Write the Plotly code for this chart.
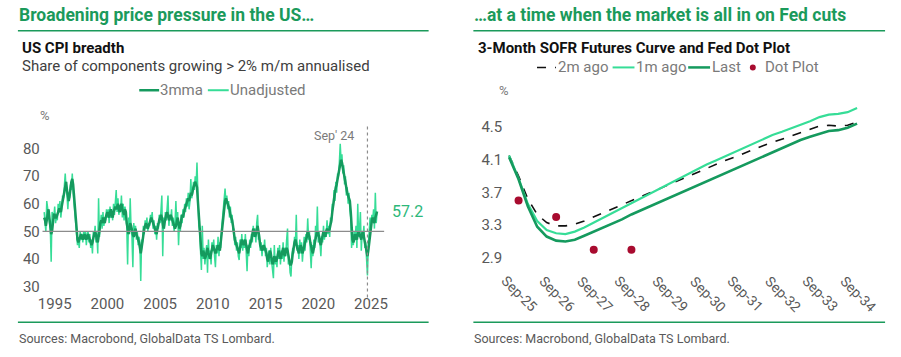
import plotly.graph_objects as go
import pandas as pd

W, H = 901, 357
def px(x): return x / W
def py(y): return 1 - y / H

GREEN = "#1B9A5B"
DARK = "#159A5E"
LIGHT = "#36DD97"
RED = "#A80B2F"
TXT = "#404040"
FONT = "Roboto"

# ---------------- Left chart data: US CPI breadth (monthly, Jan 1994 - Aug 2025) -------------
cpi_start = "1994-01-01"
cpi_unadjusted = [
    57, 52, 50, 61, 58, 56, 53, 51, 39, 57, 56, 55,          # 1994
    59, 53, 56, 54, 60, 57, 61, 55, 58, 63, 62, 66,          # 1995
    71, 65, 63, 58, 64, 62, 67, 65, 71, 64, 60, 55,          # 1996
    50, 48, 45, 47, 44, 50, 47, 49, 46, 50, 47, 50,          # 1997
    45, 49, 50, 46, 49, 44, 47, 42, 50, 48, 52, 46,          # 1998
    49, 42, 62, 48, 53, 56, 51, 57, 52, 55, 54, 58,          # 1999
    55, 58, 53, 59, 55, 57, 54, 60, 56, 61, 65, 57,          # 2000
    62, 56, 59, 57, 63, 55, 60, 54, 59, 56, 52, 38,          # 2001
    55, 49, 62, 51, 48, 37, 53, 49, 52, 47, 50, 45,          # 2002
    48, 45, 32, 47, 46, 52, 49, 54, 51, 55, 50, 53,          # 2003
    52, 56, 54, 57, 51, 54, 49, 52, 47, 53, 51, 56,          # 2004
    53, 58, 63, 41, 55, 51, 57, 54, 59, 63, 52, 56,          # 2005
    54, 58, 52, 55, 50, 53, 61, 52, 57, 45, 53, 50,          # 2006
    56, 53, 58, 55, 60, 57, 62, 59, 64, 58, 61, 69,          # 2007
    62, 64, 68, 65, 70, 67, 75, 60, 52, 50, 42, 36,          # 2008
    52, 40, 44, 38, 42, 45, 35, 47, 40, 43, 38, 46,          # 2009
    43, 47, 41, 37, 45, 42, 48, 41, 46, 44, 51, 55,          # 2010
    57, 60, 65.5, 60, 63, 58, 61, 55, 59, 53, 56, 50,        # 2011
    51, 45, 48, 43, 46, 41, 39.6, 47, 44, 49, 43, 47,        # 2012
    44, 49, 43, 35.5, 45, 41, 47, 44, 49, 46, 52, 48,        # 2013
    51, 46, 53, 56, 47, 49, 43, 46, 41, 45, 43, 47,          # 2014
    41, 44, 37, 40, 43, 38, 44, 39, 36, 33, 45, 38,          # 2015
    41, 37, 44, 40, 45, 38, 43, 40, 46, 39, 44, 41,          # 2016
    47, 51, 38, 40, 35, 33.6, 41, 44, 42, 48, 45, 56,        # 2017
    43, 45, 40, 47, 42, 46, 39, 44, 48, 43, 49, 46,          # 2018
    54.7, 47, 50, 43, 36.6, 45, 41, 47, 44, 52, 48, 59,      # 2019
    46, 50, 44, 41, 48, 46, 52, 47, 50, 48, 54, 49,          # 2020
    52, 48, 55, 53, 60, 58, 65, 61, 68, 64, 71, 70,          # 2021
    75, 81.8, 76, 78, 71, 74, 67, 70, 63, 66, 60, 64,        # 2022
    58, 55, 44, 49, 45, 50, 47, 52, 44, 60, 48, 51,          # 2023
    57, 43, 50, 48, 52, 44, 46, 40, 34, 45, 49, 55,          # 2024
    52, 56, 54, 58, 51, 64, 53, 57,                          # 2025
]
cpi_3mma = [
    55, 54, 52, 54, 57, 58, 55, 52, 49, 50, 54, 56,          # 1994
    56, 55, 55, 56, 57, 58, 58, 57, 59, 61, 63, 65,          # 1995
    67, 68, 65, 62, 61, 63, 66, 68, 69, 67, 63, 58,          # 1996
    53, 49, 47, 46, 47, 48, 49, 48, 47, 48, 49, 48,          # 1997
    47, 48, 49, 48, 47, 46, 45, 46, 48, 49, 50, 49,          # 1998
    47, 46, 48, 51, 53, 54, 53, 55, 54, 53, 55, 56,          # 1999
    57, 56, 55, 57, 58, 56, 55, 57, 58, 59, 58, 59,          # 2000
    60, 58, 57, 59, 60, 58, 57, 56, 58, 57, 53, 50,          # 2001
    49, 51, 53, 52, 50, 49, 48, 50, 51, 49, 48, 47,          # 2002
    46, 44, 42, 44, 47, 50, 51, 52, 53, 52, 51, 52,          # 2003
    53, 54, 55, 54, 53, 52, 51, 50, 49, 51, 53, 54,          # 2004
    55, 56, 55, 53, 51, 53, 55, 56, 57, 55, 54, 55,          # 2005
    56, 55, 54, 53, 52, 51, 52, 54, 55, 53, 51, 52,          # 2006
    54, 56, 55, 57, 58, 59, 60, 61, 62, 61, 63, 64,          # 2007
    63, 65, 66, 67, 68, 67, 66, 61, 55, 49, 44, 42,          # 2008
    41, 43, 42, 40, 41, 43, 44, 42, 41, 40, 42, 44,          # 2009
    45, 44, 43, 42, 43, 44, 45, 44, 43, 46, 49, 52,          # 2010
    56, 59, 61, 62, 61, 60, 59, 58, 56, 55, 54, 52,          # 2011
    49, 47, 46, 45, 44, 43, 42, 44, 46, 47, 46, 45,          # 2012
    46, 47, 45, 43, 42, 44, 45, 46, 47, 49, 51, 50,          # 2013
    48, 49, 51, 52, 50, 47, 45, 44, 43, 44, 45, 44,          # 2014
    43, 42, 40, 39, 41, 43, 42, 40, 38, 39, 41, 40,          # 2015
    39, 40, 42, 43, 42, 40, 41, 43, 44, 42, 41, 43,          # 2016
    44, 43, 41, 39, 38, 38, 39, 42, 45, 46, 47, 45,          # 2017
    44, 43, 42, 44, 45, 44, 42, 43, 45, 46, 47, 48,          # 2018
    50, 49, 48, 46, 44, 43, 42, 44, 46, 48, 49, 50,          # 2019
    49, 48, 46, 45, 47, 49, 50, 49, 48, 50, 51, 50,          # 2020
    50, 51, 52, 54, 57, 60, 62, 64, 66, 67, 69, 71,          # 2021
    73, 75, 76, 75, 73, 71, 69, 67, 65, 64, 63, 62,          # 2022
    61, 57, 51, 47, 46, 47, 49, 48, 47, 49, 50, 49,          # 2023
    48, 47, 49, 50, 48, 46, 44, 42, 41, 43, 46, 50,          # 2024
    53, 54, 55, 54, 53, 55, 56, 57.2,                        # 2025
]
cpi_ticks = [30, 40, 50, 60, 70, 80]
cpi_ref_level = 50
cpi_marker_date = "2024-09-01"
cpi_marker_label = "Sep' 24"
cpi_last_label = "57.2"

# ---------------- Right chart data: 3M SOFR futures curve & Fed dot plot -------------
sofr_dates = pd.date_range("2025-10-01", periods=38, freq="QS-JAN").strftime("%Y-%m-%d").tolist()
sofr_2m_ago = [4.15, 3.90, 3.62, 3.43, 3.33, 3.29, 3.29, 3.31, 3.35, 3.40, 3.45, 3.50, 3.55,
               3.60, 3.65, 3.69, 3.74, 3.79, 3.84, 3.89, 3.94, 3.99, 4.04, 4.09, 4.13, 4.18,
               4.23, 4.27, 4.31, 4.35, 4.39, 4.43, 4.47, 4.51, 4.52, 4.51, 4.52, 4.56]
sofr_1m_ago = [4.15, 3.87, 3.56, 3.35, 3.24, 3.20, 3.19, 3.22, 3.27, 3.33, 3.39, 3.45, 3.51,
               3.57, 3.63, 3.69, 3.75, 3.81, 3.87, 3.93, 3.99, 4.04, 4.09, 4.14, 4.20, 4.25,
               4.30, 4.35, 4.40, 4.44, 4.48, 4.53, 4.57, 4.62, 4.65, 4.66, 4.68, 4.73]
sofr_last = [4.13, 3.86, 3.53, 3.28, 3.16, 3.11, 3.10, 3.12, 3.17, 3.22, 3.27, 3.32, 3.37,
             3.43, 3.48, 3.53, 3.58, 3.64, 3.69, 3.74, 3.79, 3.84, 3.89, 3.94, 3.99, 4.04,
             4.09, 4.14, 4.19, 4.24, 4.29, 4.34, 4.38, 4.42, 4.45, 4.46, 4.49, 4.54]
dot_dates = ["2026-01-01", "2027-01-01", "2028-01-01", "2029-01-01"]
dot_values = [3.6, 3.4, 3.0, 3.0]
sofr_ticks = [2.9, 3.3, 3.7, 4.1, 4.5]
sofr_tick_dates = pd.date_range("2025-09-01", periods=10, freq="12MS")
sofr_tick_labels = sofr_tick_dates.strftime("%b-%y").tolist()

cpi_dates = pd.date_range(cpi_start, periods=len(cpi_unadjusted), freq="MS")

fig = go.Figure()
fig.add_trace(go.Scatter(x=cpi_dates, y=cpi_unadjusted, mode="lines",
                         line=dict(color=LIGHT, width=1.5), xaxis="x", yaxis="y", name="Unadjusted"))
fig.add_trace(go.Scatter(x=cpi_dates, y=cpi_3mma, mode="lines",
                         line=dict(color=DARK, width=2.5), xaxis="x", yaxis="y", name="3mma"))

fig.add_trace(go.Scatter(x=sofr_dates, y=sofr_2m_ago, mode="lines",
                         line=dict(color="#111111", width=1.6, dash="dash"), xaxis="x2", yaxis="y2", name="2m ago"))
fig.add_trace(go.Scatter(x=sofr_dates, y=sofr_1m_ago, mode="lines",
                         line=dict(color=LIGHT, width=2.2), xaxis="x2", yaxis="y2", name="1m ago"))
fig.add_trace(go.Scatter(x=sofr_dates, y=sofr_last, mode="lines",
                         line=dict(color=DARK, width=2.6), xaxis="x2", yaxis="y2", name="Last"))
fig.add_trace(go.Scatter(x=dot_dates, y=dot_values, mode="markers",
                         marker=dict(color=RED, size=8), xaxis="x2", yaxis="y2", name="Dot Plot"))

tickfont = dict(family=FONT, size=15, color="#595959")

fig.update_layout(
    width=W, height=H, margin=dict(l=0, r=0, t=0, b=0),
    paper_bgcolor="white", plot_bgcolor="white", showlegend=False,
    font=dict(family=FONT),
    xaxis=dict(domain=[px(38), px(385)], type="date",
               range=["1993-09-06", "2026-06-01"], tick0="1995-01-01", dtick="M60",
               tickformat="%Y", showgrid=False, zeroline=False, showline=False, ticks="",
               tickfont=tickfont, anchor="y"),
    yaxis=dict(domain=[py(295), py(128)], range=[27.8, 87.9], tickvals=cpi_ticks,
               showgrid=False, zeroline=False, showline=False, ticks="",
               tickfont=tickfont, anchor="x"),
    xaxis2=dict(domain=[px(503), px(872)], type="date",
                range=["2025-08-05", "2035-05-08"], tickvals=sofr_tick_dates,
                showticklabels=False, showgrid=False, zeroline=False, showline=False,
                ticks="", anchor="y2"),
    yaxis2=dict(domain=[py(268), py(100)], range=[2.803, 4.839], tickvals=sofr_ticks,
                tickformat=".1f", showgrid=False, zeroline=False, showline=False, ticks="",
                tickfont=tickfont, anchor="x2"),
)

shapes = []
for x0, x1 in [(15, 428), (473, 887)]:
    for yy in (31, 325):
        shapes.append(dict(type="line", xref="paper", yref="paper", x0=px(x0), x1=px(x1),
                           y0=py(yy), y1=py(yy), line=dict(color=GREEN, width=1.5)))
shapes.append(dict(type="line", xref="x domain", yref="y", x0=0.005, x1=0.995,
                   y0=cpi_ref_level, y1=cpi_ref_level, line=dict(color="#8C8C8C", width=1.3)))
shapes.append(dict(type="line", xref="x", yref="paper", x0=cpi_marker_date, x1=cpi_marker_date,
                   y0=py(300), y1=py(126), line=dict(color="#8C8C8C", width=1.2, dash="dot")))
shapes.append(dict(type="line", xref="paper", yref="paper", x0=px(137), x1=px(157), y0=py(91), y1=py(91),
                   line=dict(color=DARK, width=2.5)))
shapes.append(dict(type="line", xref="paper", yref="paper", x0=px(206), x1=px(227), y0=py(91), y1=py(91),
                   line=dict(color=LIGHT, width=2)))
shapes.append(dict(type="line", xref="paper", yref="paper", x0=px(537), x1=px(556), y0=py(68), y1=py(68),
                   line=dict(color="#111111", width=1.6, dash="dash")))
shapes.append(dict(type="line", xref="paper", yref="paper", x0=px(613), x1=px(635), y0=py(68), y1=py(68),
                   line=dict(color=LIGHT, width=2)))
shapes.append(dict(type="line", xref="paper", yref="paper", x0=px(689), x1=px(711), y0=py(68), y1=py(68),
                   line=dict(color=DARK, width=2.5)))
shapes.append(dict(type="circle", xref="paper", yref="paper", x0=px(751), x1=px(757), y0=py(71), y1=py(65),
                   fillcolor=RED, line=dict(color=RED, width=0)))
fig.update_layout(shapes=shapes)

def ann(x, y, text, size, color, xanchor="left", bold=False):
    return dict(x=px(x), y=py(y), xref="paper", yref="paper", text=("<b>%s</b>" % text) if bold else text,
                showarrow=False, xanchor=xanchor, yanchor="middle",
                font=dict(family=FONT, size=size, color=color))

annotations = [
    ann(14, 15, "Broadening price pressure in the US…", 17.5, GREEN, bold=True),
    ann(472, 15, "…at a time when the market is all in on Fed cuts", 17.5, GREEN, bold=True),
    ann(17, 48, "US CPI breadth", 15, "#111111", bold=True),
    ann(17, 67, "Share of components growing > 2% m/m annualised", 15, TXT),
    ann(156, 91, "3mma", 15, "#7A7A7A"),
    ann(226, 91, "Unadjusted", 15, "#7A7A7A"),
    ann(476, 48, "3-Month SOFR Futures Curve and Fed Dot Plot", 15, "#111111", bold=True),
    ann(556, 68, "2m ago", 15, "#7A7A7A"),
    ann(635, 68, "1m ago", 15, "#7A7A7A"),
    ann(711, 68, "Last", 15, "#7A7A7A"),
    ann(764, 68, "Dot Plot", 15, "#7A7A7A"),
    ann(35, 116, "%", 13, "#7A7A7A"),
    ann(497, 91, "%", 13, "#7A7A7A"),
    ann(389, 213, cpi_last_label, 16, "#2DB87A"),
    ann(355, 137, cpi_marker_label, 12.5, "#7A7A7A", xanchor="right"),
    ann(14, 341, "Sources: Macrobond, GlobalData TS Lombard.", 12.5, "#595959"),
    ann(472, 341, "Sources: Macrobond, GlobalData TS Lombard.", 12.5, "#595959"),
]
# rotated date labels of the right chart, centred just after each September tick
for d, lab in zip(sofr_tick_dates, sofr_tick_labels):
    annotations.append(dict(x=d, xref="x2", y=py(296), yref="paper", text=lab, textangle=45,
                            xshift=14, showarrow=False, xanchor="center", yanchor="middle",
                            font=dict(family=FONT, size=14, color="#595959")))
fig.update_layout(annotations=annotations)

fig.write_html("out.html", config={"displayModeBar": False},
               post_script="document.body.style.margin='0px';")
